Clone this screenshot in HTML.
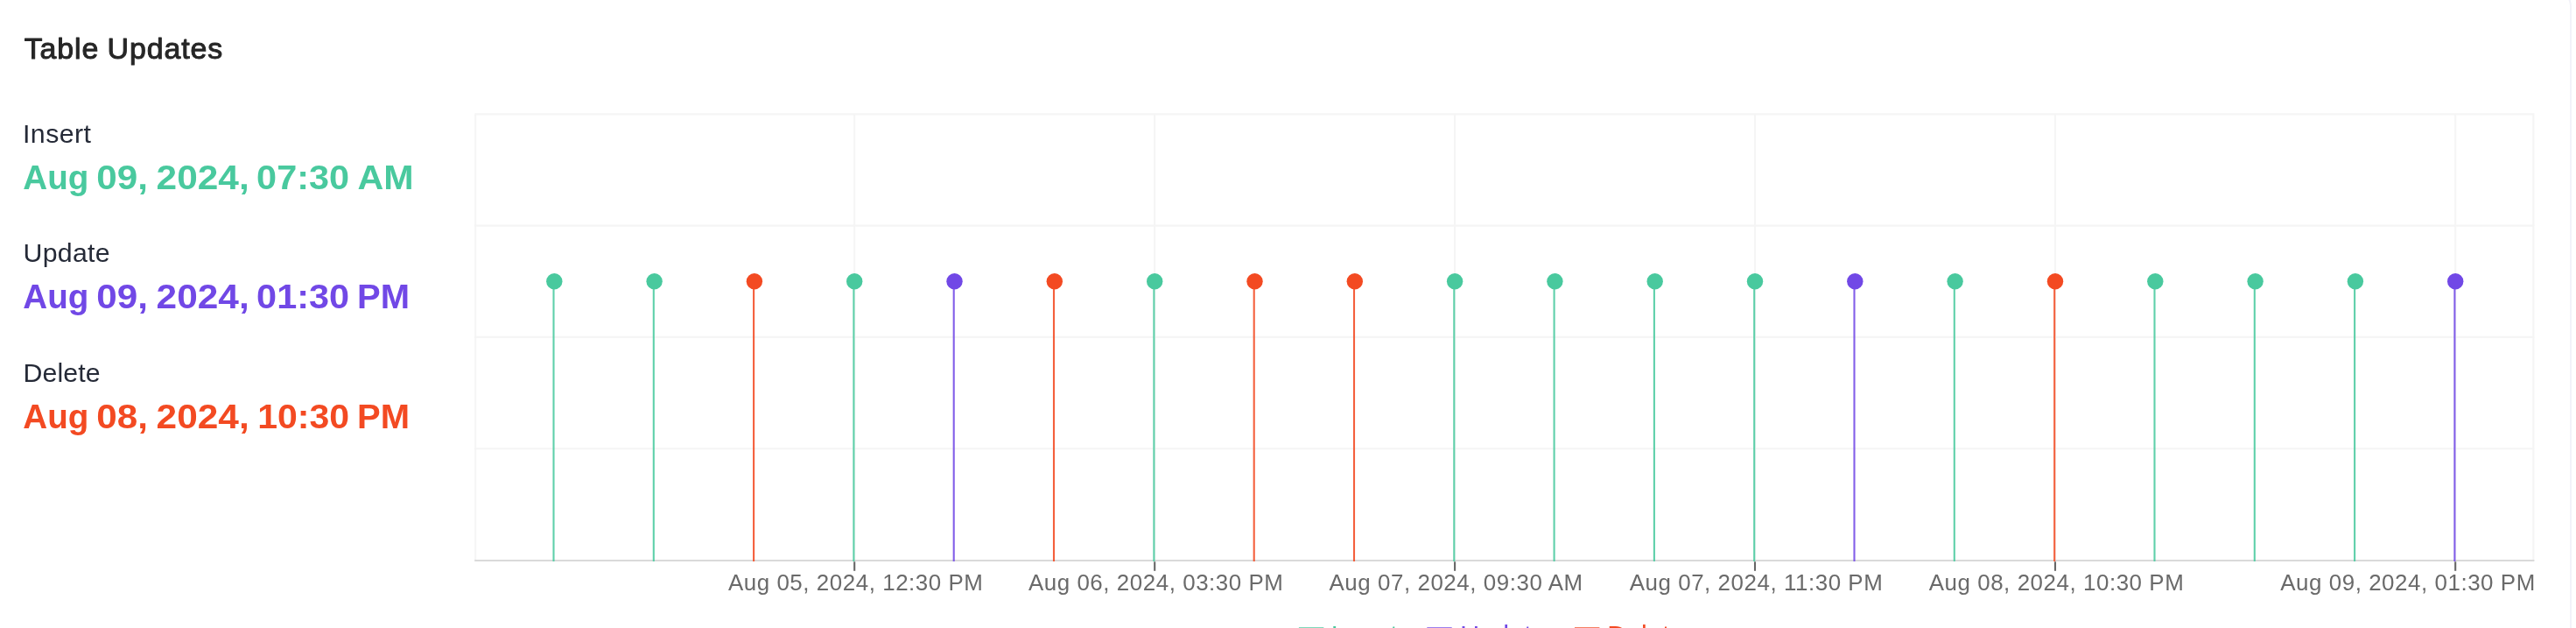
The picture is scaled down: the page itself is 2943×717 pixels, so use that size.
<!DOCTYPE html>
<html>
<head>
<meta charset="utf-8">
<title>Table Updates</title>
<style>
html,body{margin:0;padding:0;background:#fff;overflow:hidden}
body{width:2943px;height:717px;position:relative;font-family:"Liberation Sans",sans-serif}
svg{position:absolute;left:0;top:0;display:block;will-change:transform}
text{font-family:"Liberation Sans",sans-serif;white-space:pre}
.title{font-size:33.9px;font-weight:normal;fill:#262626;stroke:#262626;stroke-width:1px;stroke-linejoin:round;letter-spacing:0.9px;word-spacing:-1px}
.lab{font-size:30.3px;fill:#252a37}
.val{font-size:39.2px;font-weight:bold}
.tick{font-size:25.9px;fill:#6a6a6a;letter-spacing:0.56px}
.leg{font-size:30.3px;letter-spacing:0.1px}
</style>
</head>
<body>
<svg width="2943" height="717" viewBox="0 0 2943 717">
<path d="M2920 -10 a17 17 0 0 1 17 17 V717" fill="none" stroke="#f2f2f9" stroke-width="2"/>
<text class="title" x="27.7" y="66.8">Table Updates</text>
<text class="lab" x="26.0" y="163" style="letter-spacing:0.45px">Insert</text>
<text class="val" transform="translate(26.32 216.4) scale(0.9848 1)" fill="#49c99e">Aug</text>
<text class="val" transform="translate(110.28 216.4) scale(1.0755 1)" fill="#49c99e">09,</text>
<text class="val" transform="translate(178.59 216.4) scale(1.0818 1)" fill="#49c99e">2024,</text>
<text class="val" transform="translate(293.11 216.4) scale(1.0566 1)" fill="#49c99e">07:30</text>
<text class="val" transform="translate(408.45 216.4) scale(1.0506 1)" fill="#49c99e">AM</text>
<text class="lab" x="26.5" y="298.5" style="letter-spacing:0.28px">Update</text>
<text class="val" transform="translate(26.32 351.9) scale(0.9848 1)" fill="#7148e6">Aug</text>
<text class="val" transform="translate(110.28 351.9) scale(1.0755 1)" fill="#7148e6">09,</text>
<text class="val" transform="translate(178.59 351.9) scale(1.0818 1)" fill="#7148e6">2024,</text>
<text class="val" transform="translate(293.11 351.9) scale(1.0566 1)" fill="#7148e6">01:30</text>
<text class="val" transform="translate(408.05 351.9) scale(1.0206 1)" fill="#7148e6">PM</text>
<text class="lab" x="26.5" y="436" style="letter-spacing:0.08px">Delete</text>
<text class="val" transform="translate(26.32 489.0) scale(0.9848 1)" fill="#f34a22">Aug</text>
<text class="val" transform="translate(110.28 489.0) scale(1.0755 1)" fill="#f34a22">08,</text>
<text class="val" transform="translate(178.59 489.0) scale(1.0818 1)" fill="#f34a22">2024,</text>
<text class="val" transform="translate(294.19 489.0) scale(1.0457 1)" fill="#f34a22">10:30</text>
<text class="val" transform="translate(408.05 489.0) scale(1.0206 1)" fill="#f34a22">PM</text>
<g stroke="#f5f5f5" stroke-width="2.1" fill="none">
<line x1="542.2" y1="130.4" x2="2895.4" y2="130.4"/>
<line x1="542.2" y1="257.6" x2="2895.4" y2="257.6"/>
<line x1="542.2" y1="384.9" x2="2895.4" y2="384.9"/>
<line x1="542.2" y1="512.2" x2="2895.4" y2="512.2"/>
<line x1="543.2" y1="130.4" x2="543.2" y2="640.1"/>
<line x1="2894.4" y1="130.4" x2="2894.4" y2="640.1"/>
<line x1="976.2" y1="130.4" x2="976.2" y2="640.1"/>
<line x1="1319.2" y1="130.4" x2="1319.2" y2="640.1"/>
<line x1="1662.1" y1="130.4" x2="1662.1" y2="640.1"/>
<line x1="2005.0" y1="130.4" x2="2005.0" y2="640.1"/>
<line x1="2348.0" y1="130.4" x2="2348.0" y2="640.1"/>
<line x1="2805.2" y1="130.4" x2="2805.2" y2="640.1"/>
</g>
<line x1="542.2" y1="640.1" x2="2895.4" y2="640.1" stroke="#dadada" stroke-width="2"/>
<line x1="632.5" y1="321" x2="632.5" y2="641.1" stroke="#49c99e" stroke-width="2.1" stroke-opacity="0.88"/>
<line x1="746.8" y1="321" x2="746.8" y2="641.1" stroke="#49c99e" stroke-width="2.1" stroke-opacity="0.88"/>
<line x1="861.1" y1="321" x2="861.1" y2="641.1" stroke="#f34a22" stroke-width="2.1" stroke-opacity="0.88"/>
<line x1="975.4" y1="321" x2="975.4" y2="641.1" stroke="#49c99e" stroke-width="2.1" stroke-opacity="0.88"/>
<line x1="1089.7" y1="321" x2="1089.7" y2="641.1" stroke="#7148e6" stroke-width="2.1" stroke-opacity="0.88"/>
<line x1="1204.0" y1="321" x2="1204.0" y2="641.1" stroke="#f34a22" stroke-width="2.1" stroke-opacity="0.88"/>
<line x1="1318.4" y1="321" x2="1318.4" y2="641.1" stroke="#49c99e" stroke-width="2.1" stroke-opacity="0.88"/>
<line x1="1432.7" y1="321" x2="1432.7" y2="641.1" stroke="#f34a22" stroke-width="2.1" stroke-opacity="0.88"/>
<line x1="1547.0" y1="321" x2="1547.0" y2="641.1" stroke="#f34a22" stroke-width="2.1" stroke-opacity="0.88"/>
<line x1="1661.3" y1="321" x2="1661.3" y2="641.1" stroke="#49c99e" stroke-width="2.1" stroke-opacity="0.88"/>
<line x1="1775.6" y1="321" x2="1775.6" y2="641.1" stroke="#49c99e" stroke-width="2.1" stroke-opacity="0.88"/>
<line x1="1889.9" y1="321" x2="1889.9" y2="641.1" stroke="#49c99e" stroke-width="2.1" stroke-opacity="0.88"/>
<line x1="2004.2" y1="321" x2="2004.2" y2="641.1" stroke="#49c99e" stroke-width="2.1" stroke-opacity="0.88"/>
<line x1="2118.5" y1="321" x2="2118.5" y2="641.1" stroke="#7148e6" stroke-width="2.1" stroke-opacity="0.88"/>
<line x1="2232.8" y1="321" x2="2232.8" y2="641.1" stroke="#49c99e" stroke-width="2.1" stroke-opacity="0.88"/>
<line x1="2347.2" y1="321" x2="2347.2" y2="641.1" stroke="#f34a22" stroke-width="2.1" stroke-opacity="0.88"/>
<line x1="2461.5" y1="321" x2="2461.5" y2="641.1" stroke="#49c99e" stroke-width="2.1" stroke-opacity="0.88"/>
<line x1="2575.8" y1="321" x2="2575.8" y2="641.1" stroke="#49c99e" stroke-width="2.1" stroke-opacity="0.88"/>
<line x1="2690.1" y1="321" x2="2690.1" y2="641.1" stroke="#49c99e" stroke-width="2.1" stroke-opacity="0.88"/>
<line x1="2804.4" y1="321" x2="2804.4" y2="641.1" stroke="#7148e6" stroke-width="2.1" stroke-opacity="0.88"/>
<circle cx="633.3" cy="321.3" r="9.2" fill="#49c99e"/>
<circle cx="747.6" cy="321.3" r="9.2" fill="#49c99e"/>
<circle cx="861.9" cy="321.3" r="9.2" fill="#f34a22"/>
<circle cx="976.2" cy="321.3" r="9.2" fill="#49c99e"/>
<circle cx="1090.5" cy="321.3" r="9.2" fill="#7148e6"/>
<circle cx="1204.8" cy="321.3" r="9.2" fill="#f34a22"/>
<circle cx="1319.2" cy="321.3" r="9.2" fill="#49c99e"/>
<circle cx="1433.5" cy="321.3" r="9.2" fill="#f34a22"/>
<circle cx="1547.8" cy="321.3" r="9.2" fill="#f34a22"/>
<circle cx="1662.1" cy="321.3" r="9.2" fill="#49c99e"/>
<circle cx="1776.4" cy="321.3" r="9.2" fill="#49c99e"/>
<circle cx="1890.7" cy="321.3" r="9.2" fill="#49c99e"/>
<circle cx="2005.0" cy="321.3" r="9.2" fill="#49c99e"/>
<circle cx="2119.3" cy="321.3" r="9.2" fill="#7148e6"/>
<circle cx="2233.6" cy="321.3" r="9.2" fill="#49c99e"/>
<circle cx="2348.0" cy="321.3" r="9.2" fill="#f34a22"/>
<circle cx="2462.3" cy="321.3" r="9.2" fill="#49c99e"/>
<circle cx="2576.6" cy="321.3" r="9.2" fill="#49c99e"/>
<circle cx="2690.9" cy="321.3" r="9.2" fill="#49c99e"/>
<circle cx="2805.2" cy="321.3" r="9.2" fill="#7148e6"/>
<line x1="976.2" y1="641.3" x2="976.2" y2="651.8" stroke="#666666" stroke-width="2.1"/>
<text class="tick" x="977.7" y="674.2" text-anchor="middle">Aug 05, 2024, 12:30 PM</text>
<line x1="1319.2" y1="641.3" x2="1319.2" y2="651.8" stroke="#666666" stroke-width="2.1"/>
<text class="tick" x="1320.7" y="674.2" text-anchor="middle">Aug 06, 2024, 03:30 PM</text>
<line x1="1662.1" y1="641.3" x2="1662.1" y2="651.8" stroke="#666666" stroke-width="2.1"/>
<text class="tick" x="1663.6" y="674.2" text-anchor="middle">Aug 07, 2024, 09:30 AM</text>
<line x1="2005.0" y1="641.3" x2="2005.0" y2="651.8" stroke="#666666" stroke-width="2.1"/>
<text class="tick" x="2006.5" y="674.2" text-anchor="middle">Aug 07, 2024, 11:30 PM</text>
<line x1="2348.0" y1="641.3" x2="2348.0" y2="651.8" stroke="#666666" stroke-width="2.1"/>
<text class="tick" x="2349.5" y="674.2" text-anchor="middle">Aug 08, 2024, 10:30 PM</text>
<line x1="2805.2" y1="641.3" x2="2805.2" y2="651.8" stroke="#666666" stroke-width="2.1"/>
<text class="tick" x="2896.8" y="674.2" text-anchor="end">Aug 09, 2024, 01:30 PM</text>
<rect x="1483.9" y="716.3" width="28.4" height="29" fill="#49c99e"/>
<text class="leg" x="1520.5" y="734.7" fill="#49c99e">Insert</text>
<rect x="1630.3" y="716.3" width="28.4" height="29" fill="#7148e6"/>
<text class="leg" x="1668.3" y="734.7" fill="#7148e6">Update</text>
<rect x="1799.0" y="716.3" width="28.4" height="29" fill="#f34a22"/>
<text class="leg" x="1836.2" y="734.7" fill="#f34a22">Delete</text>
</svg>
</body>
</html>
